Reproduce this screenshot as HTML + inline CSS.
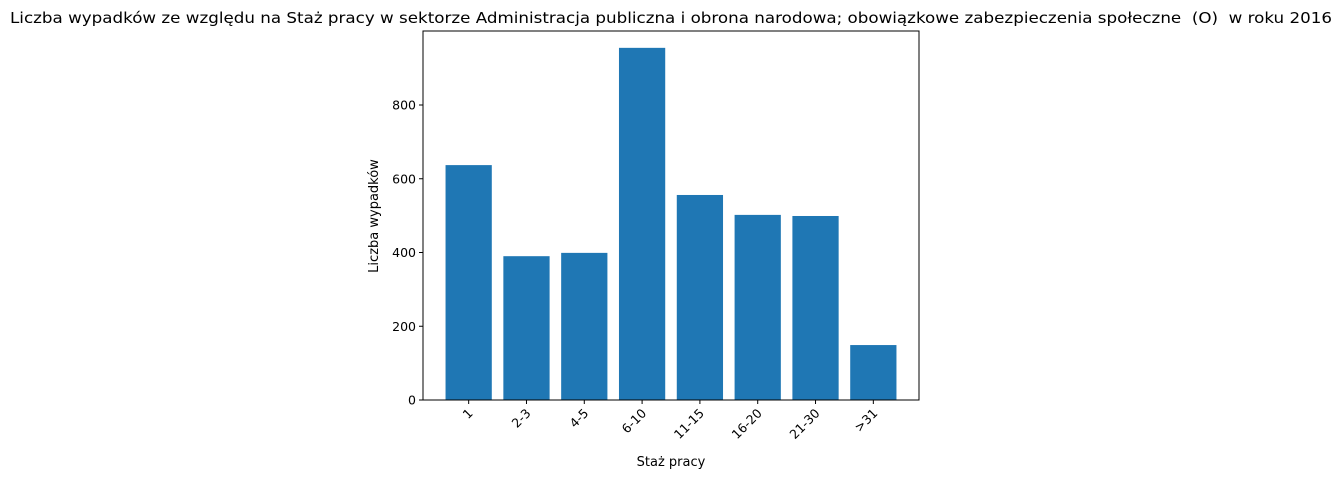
<!DOCTYPE html>
<html><head><meta charset="utf-8"><style>
html,body{margin:0;padding:0;background:#fff;}
svg{display:block;font-family:"DejaVu Sans","Liberation Sans",sans-serif;}
</style></head><body>
<svg id="chart" width="1342" height="478">
<text x="10" y="23" xml:space="preserve" textLength="1322" lengthAdjust="spacingAndGlyphs" font-size="15.5" fill="#000">Liczba wypadków ze względu na Staż pracy w sektorze Administracja publiczna i obrona narodowa; obowiązkowe zabezpieczenia społeczne  (O)  w roku 2016</text>
<g id="bars"></g>
<rect x="423" y="31" width="496" height="369" fill="none" stroke="#000" stroke-width="1"/>
<g id="yticks"></g>
<g id="xticks"></g>
<text x="671" y="466" text-anchor="middle" font-size="13">Staż pracy</text>
<text transform="translate(378,216) rotate(-90)" text-anchor="middle" font-size="13">Liczba wypadków</text>
</svg>
<script>
const categories = ["1","2-3","4-5","6-10","11-15","16-20","21-30",">31"];
const values = [637,390,399,955,556,502,499,149];
const yTicks = [0,200,400,600,800];
const ns = "http://www.w3.org/2000/svg";
const L=423,R=919,B=400,T=31;
const yScale = v => B - v*(295/800);
const xmin=-0.79, xmax=categories.length-1+0.79;
const xScale = i => L + (i-xmin)/(xmax-xmin)*(R-L);
const bw = 0.8*(R-L)/(xmax-xmin);
function mk(tag,attrs,parent){const e=document.createElementNS(ns,tag);for(const k in attrs)e.setAttribute(k,attrs[k]);parent.appendChild(e);return e;}
const bars=document.getElementById('bars'), xt=document.getElementById('xticks'), yt=document.getElementById('yticks');
values.forEach((v,i)=>{
  const r=mk('rect',{x:xScale(i)-bw/2,y:yScale(v),width:bw,height:B-yScale(v),fill:'#1f77b4'},bars);
  
  
});
categories.forEach((c,i)=>{
  const x=xScale(i);
  const l=mk('line',{x1:x,x2:x,y1:B,y2:B+4,stroke:'#000'},xt);
  
  
  const t=mk('text',{transform:`translate(${x+5},${B+14}) rotate(-45)`,'text-anchor':'end','font-size':'12.5'},xt);
  t.textContent=c;
  
  
});
yTicks.forEach(v=>{
  const y=yScale(v);
  const l=mk('line',{x1:L-4,x2:L,y1:y,y2:y,stroke:'#000'},yt);
  
  
  const t=mk('text',{x:L-7,y:y+4.5,'text-anchor':'end','font-size':'12.5'},yt);
  t.textContent=v;
  
  
});
</script>
</body></html>
